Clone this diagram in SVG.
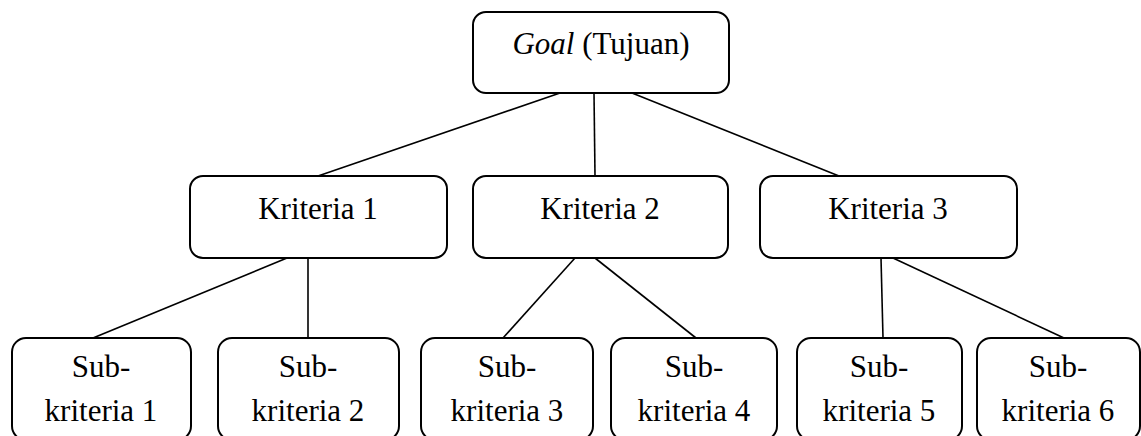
<svg xmlns="http://www.w3.org/2000/svg" width="1141" height="436" viewBox="0 0 1141 436">
<style>
.box{fill:#fff;stroke:#000;stroke-width:2}
.t{font-family:"Liberation Serif","Times New Roman",serif;font-size:31px;fill:#000;text-anchor:middle}
.c line{stroke:#000;stroke-width:1.6}
</style>
<rect width="1141" height="436" fill="#fff"/>
<g class="c" id="connectors">
<line x1="560" y1="93" x2="318" y2="176"/>
<line x1="594" y1="93" x2="595" y2="176"/>
<line x1="632" y1="93" x2="839" y2="176"/>
<line x1="287" y1="258" x2="93" y2="338"/>
<line x1="308" y1="258" x2="308" y2="338"/>
<line x1="575" y1="258" x2="503" y2="338"/>
<line x1="595" y1="258" x2="696" y2="338"/>
<line x1="881" y1="258" x2="883" y2="338"/>
<line x1="893" y1="258" x2="1064" y2="338"/>
</g>
<g id="goal"><rect class="box" x="473" y="12" width="256" height="81" rx="13"/><text class="t" x="601" y="54"><tspan font-style="italic">Goal</tspan> (Tujuan)</text></g>
<g id="k1"><rect class="box" x="190" y="176" width="257" height="82" rx="13"/><text class="t" x="318" y="219">Kriteria 1</text></g>
<g id="k2"><rect class="box" x="473" y="176" width="255" height="82" rx="13"/><text class="t" x="600" y="219">Kriteria 2</text></g>
<g id="k3"><rect class="box" x="760" y="176" width="257" height="82" rx="13"/><text class="t" x="888" y="219">Kriteria 3</text></g>
<g id="s1"><rect class="box" x="12" y="338" width="179" height="102" rx="14"/><text class="t" x="101" y="377">Sub-</text><text class="t" x="101" y="421">kriteria 1</text></g>
<g id="s2"><rect class="box" x="218" y="338" width="181" height="102" rx="14"/><text class="t" x="308" y="377">Sub-</text><text class="t" x="308" y="421">kriteria 2</text></g>
<g id="s3"><rect class="box" x="421" y="338" width="172" height="102" rx="14"/><text class="t" x="507" y="377">Sub-</text><text class="t" x="507" y="421">kriteria 3</text></g>
<g id="s4"><rect class="box" x="611" y="338" width="166" height="102" rx="14"/><text class="t" x="694" y="377">Sub-</text><text class="t" x="694" y="421">kriteria 4</text></g>
<g id="s5"><rect class="box" x="797" y="338" width="165" height="102" rx="14"/><text class="t" x="879" y="377">Sub-</text><text class="t" x="879" y="421">kriteria 5</text></g>
<g id="s6"><rect class="box" x="977" y="338" width="163" height="102" rx="14"/><text class="t" x="1058" y="377">Sub-</text><text class="t" x="1058" y="421">kriteria 6</text></g>
</svg>
